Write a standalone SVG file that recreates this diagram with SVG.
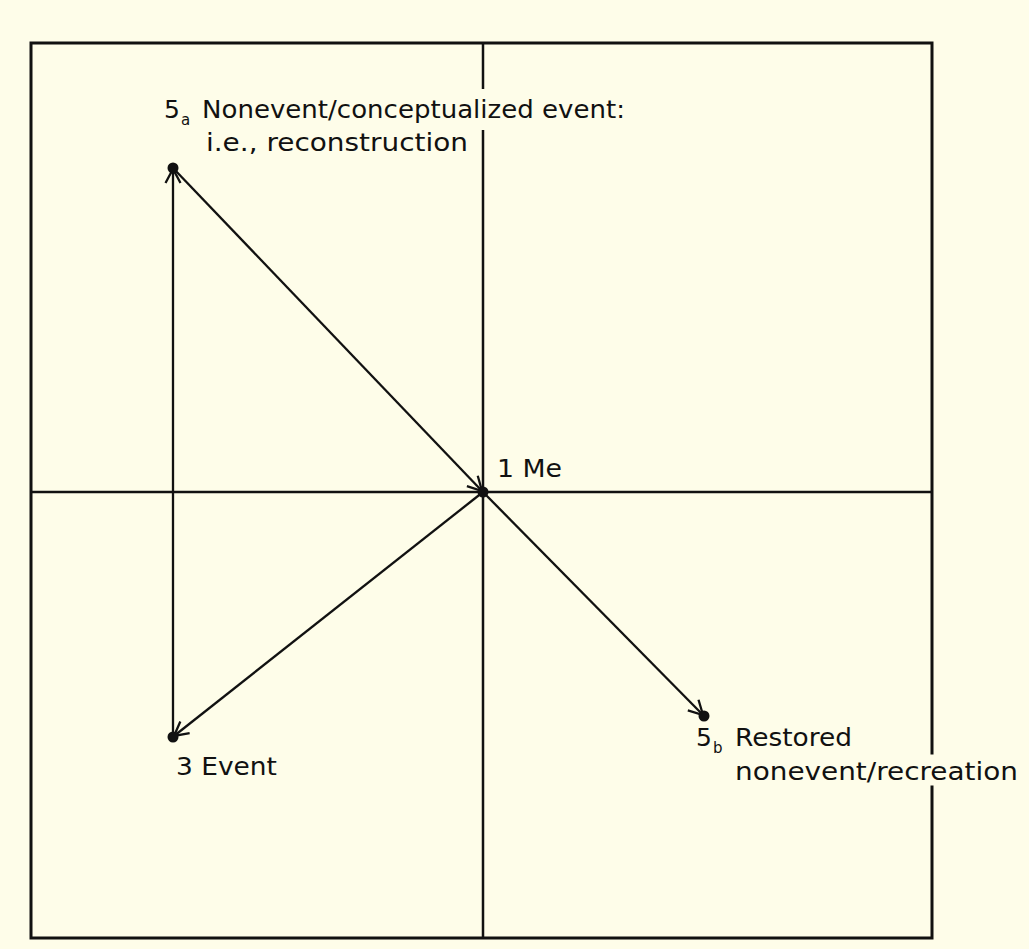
<svg xmlns="http://www.w3.org/2000/svg" width="1029" height="949" viewBox="0 0 1029 949">
<defs>
<style>
.frame{stroke:#111;stroke-width:3;fill:none;stroke-linecap:square}
.axis{stroke:#111;stroke-width:2.5;fill:none}
.conn{stroke:#111;stroke-width:2.3;fill:none}
.dot{fill:#111}
.lbl{font-family:"DejaVu Sans","Liberation Sans",sans-serif;font-size:25px;fill:#111}
.sub{font-family:"DejaVu Sans","Liberation Sans",sans-serif;font-size:15px;fill:#111}
</style>
<marker id="arr" viewBox="-16 -9 18 18" refX="0" refY="0" markerWidth="18" markerHeight="18" markerUnits="userSpaceOnUse" orient="auto">
<path d="M -14 -7.5 L 0 0 L -14 7.5" fill="none" stroke="#111" stroke-width="2.3"/>
</marker>
</defs>
<rect x="0" y="0" width="1029" height="949" fill="#fefde9"/>
<g id="frame">
<path class="frame" d="M 932 753 L 932 43 L 31 43 L 31 938 L 932 938 L 932 787"/>
</g>
<g id="axes">
<line class="axis" x1="483" y1="43" x2="483" y2="89"/>
<line class="axis" x1="483" y1="130" x2="483" y2="938"/>
<line class="axis" x1="31" y1="492" x2="932" y2="492"/>
</g>
<g id="connectors">
<line class="conn" x1="173" y1="737" x2="173" y2="169" marker-end="url(#arr)"/>
<line class="conn" x1="173" y1="168" x2="482" y2="491" marker-end="url(#arr)"/>
<line class="conn" x1="483" y1="492" x2="174" y2="736" marker-end="url(#arr)"/>
<line class="conn" x1="483" y1="492" x2="703" y2="715" marker-end="url(#arr)"/>
</g>
<g id="node-5a">
<circle class="dot" cx="173" cy="168" r="5.5"/>
<text class="lbl" x="164" y="118">5</text>
<text class="sub" x="181" y="125">a</text>
<text class="lbl" x="202" y="118" textLength="423" lengthAdjust="spacingAndGlyphs">Nonevent/conceptualized event:</text>
<text class="lbl" x="206" y="151" textLength="262" lengthAdjust="spacingAndGlyphs">i.e., reconstruction</text>
</g>
<g id="node-1">
<circle class="dot" cx="483" cy="492" r="5.5"/>
<text class="lbl" x="497" y="477" textLength="65" lengthAdjust="spacingAndGlyphs">1 Me</text>
</g>
<g id="node-3">
<circle class="dot" cx="173" cy="737" r="5.5"/>
<text class="lbl" x="176" y="775" textLength="101" lengthAdjust="spacingAndGlyphs">3 Event</text>
</g>
<g id="node-5b">
<circle class="dot" cx="704" cy="716" r="5.5"/>
<text class="lbl" x="696" y="746">5</text>
<text class="sub" x="713" y="753">b</text>
<text class="lbl" x="735" y="746" textLength="117" lengthAdjust="spacingAndGlyphs">Restored</text>
<text class="lbl" x="735" y="780" textLength="283" lengthAdjust="spacingAndGlyphs">nonevent/recreation</text>
</g>
</svg>
